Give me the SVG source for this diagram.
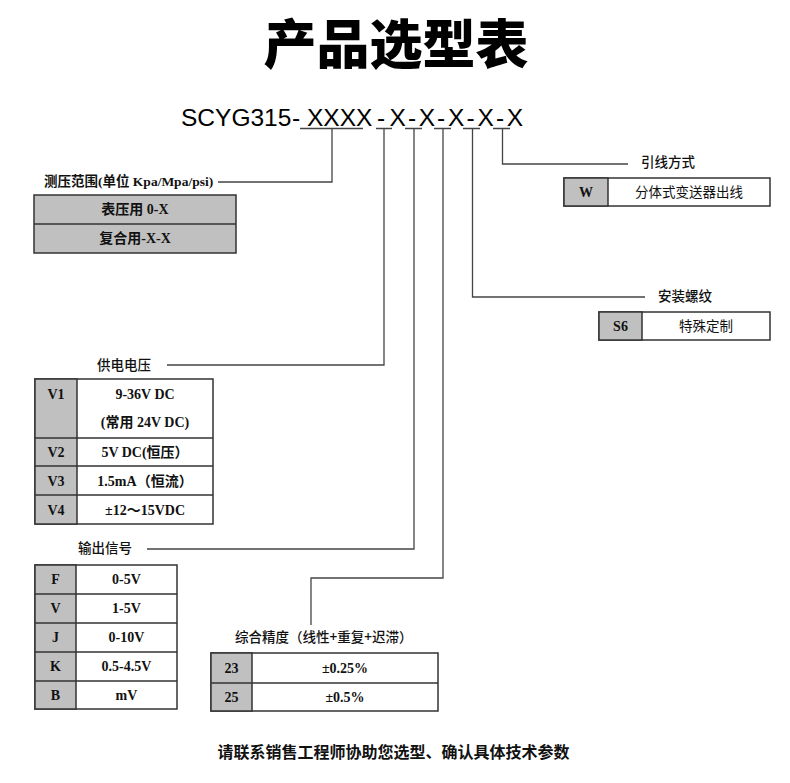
<svg xmlns="http://www.w3.org/2000/svg" width="790" height="783" viewBox="0 0 790 783">
<style>
.bg{fill:#ffffff}
.title{font-family:"Noto Sans CJK SC",sans-serif;font-weight:900;font-size:53px;fill:#000}
.code{font-family:"Liberation Sans",Arial,sans-serif;font-size:24.5px;fill:#000}
.lbl{font-family:"Liberation Serif","Noto Sans CJK SC",serif;font-weight:bold;font-size:13.5px;fill:#111}
.lbs{font-family:"Noto Sans CJK SC",sans-serif;font-weight:500;font-size:13.5px;fill:#111}
.cell{font-family:"Liberation Serif","Noto Sans CJK SC",serif;font-weight:bold;font-size:14px;fill:#111;text-anchor:middle}
.cells{font-family:"Noto Sans CJK SC",sans-serif;font-size:13.5px;fill:#111;text-anchor:middle}
.gray{fill:#c0c0c0;stroke:#333;stroke-width:1.5}
.white{fill:#ffffff;stroke:#333;stroke-width:1.5}
.ln{fill:none;stroke:#333;stroke-width:1.5}
.conn{fill:none;stroke:#444;stroke-width:1.3}
.foot{font-family:"Noto Sans CJK SC",sans-serif;font-weight:600;font-size:16px;fill:#111;text-anchor:middle}
</style>
<rect class="bg" x="0" y="0" width="790" height="783"/>
<g id="title"><text class="title" x="396" y="64" text-anchor="middle">产品选型表</text></g>
<g id="model-code">
<text class="code" y="126"><tspan x="181">SCYG315</tspan><tspan x="292">-</tspan><tspan x="307">XXXX</tspan><tspan x="377">-</tspan><tspan x="389.5">X</tspan><tspan x="408">-</tspan><tspan x="418.8">X</tspan><tspan x="437">-</tspan><tspan x="448.1">X</tspan><tspan x="466.5">-</tspan><tspan x="477.4">X</tspan><tspan x="496">-</tspan><tspan x="506.7">X</tspan></text>
</g>
<g id="connectors">
<path class="conn" d="M300 128.5H363M376 128.5H392M405 128.5H422M434 128.5H451M463 128.5H480M493 128.5H510"/>
<path class="conn" d="M332 129V182H218"/>
<path class="conn" d="M384 129V365H167"/>
<path class="conn" d="M414 129V549H147"/>
<path class="conn" d="M443 129V578H311V625"/>
<path class="conn" d="M472.5 129V297H645"/>
<path class="conn" d="M502.5 129V164H628"/>
</g>
<g id="range">
<text class="lbl" x="44" y="186">测压范围(单位 Kpa/Mpa/psi)</text>
<rect class="gray" x="34" y="195" width="202" height="58"/>
<line class="ln" x1="34" y1="224" x2="236" y2="224"/>
<text class="cell" x="135" y="214">表压用 0-X</text>
<text class="cell" x="135" y="243">复合用-X-X</text>
</g>
<g id="lead">
<text class="lbs" x="641" y="167">引线方式</text>
<rect class="white" x="564" y="178" width="206" height="28"/>
<rect class="gray" x="564" y="178" width="44" height="28"/>
<text class="cell" x="586" y="197">W</text>
<text class="cells" x="689" y="197">分体式变送器出线</text>
</g>
<g id="thread">
<text class="lbs" x="658" y="301">安装螺纹</text>
<rect class="white" x="599" y="312" width="171" height="28"/>
<rect class="gray" x="599" y="312" width="43" height="28"/>
<text class="cell" x="620.5" y="331">S6</text>
<text class="cells" x="706" y="331">特殊定制</text>
</g>
<g id="supply">
<text class="lbs" x="97" y="370">供电电压</text>
<rect class="white" x="35" y="379" width="178" height="145"/>
<rect class="gray" x="35" y="379" width="42" height="145"/>
<path class="ln" d="M35 438H213M35 466H213M35 495H213"/>
<text class="cell" x="56" y="399">V1</text>
<text class="cell" x="145" y="399">9-36V DC</text>
<text class="cell" x="145" y="427">(常用 24V DC)</text>
<text class="cell" x="56" y="457">V2</text>
<text class="cell" x="145" y="457">5V DC(恒压）</text>
<text class="cell" x="56" y="486">V3</text>
<text class="cell" x="145" y="486">1.5mA（恒流）</text>
<text class="cell" x="56" y="515">V4</text>
<text class="cell" x="145" y="515">±12～15VDC</text>
</g>
<g id="output">
<text class="lbs" x="78" y="553">输出信号</text>
<rect class="white" x="35" y="565" width="142" height="144"/>
<rect class="gray" x="35" y="565" width="41" height="144"/>
<path class="ln" d="M35 594H177M35 623H177M35 652H177M35 681H177"/>
<text class="cell" x="55.5" y="584">F</text>
<text class="cell" x="126.5" y="584">0-5V</text>
<text class="cell" x="55.5" y="613">V</text>
<text class="cell" x="126.5" y="613">1-5V</text>
<text class="cell" x="55.5" y="642">J</text>
<text class="cell" x="126.5" y="642">0-10V</text>
<text class="cell" x="55.5" y="671">K</text>
<text class="cell" x="126.5" y="671">0.5-4.5V</text>
<text class="cell" x="55.5" y="700">B</text>
<text class="cell" x="126.5" y="700">mV</text>
</g>
<g id="accuracy">
<text class="lbs" x="235" y="642">综合精度（线性+重复+迟滞）</text>
<rect class="white" x="211" y="653" width="227" height="58"/>
<rect class="gray" x="211" y="653" width="41" height="58"/>
<line class="ln" x1="211" y1="683" x2="438" y2="683"/>
<text class="cell" x="231.5" y="673">23</text>
<text class="cell" x="345" y="673">±0.25%</text>
<text class="cell" x="231.5" y="702">25</text>
<text class="cell" x="345" y="702">±0.5%</text>
</g>
<g id="footer"><text class="foot" x="393.5" y="758">请联系销售工程师协助您选型、确认具体技术参数</text></g>
</svg>
